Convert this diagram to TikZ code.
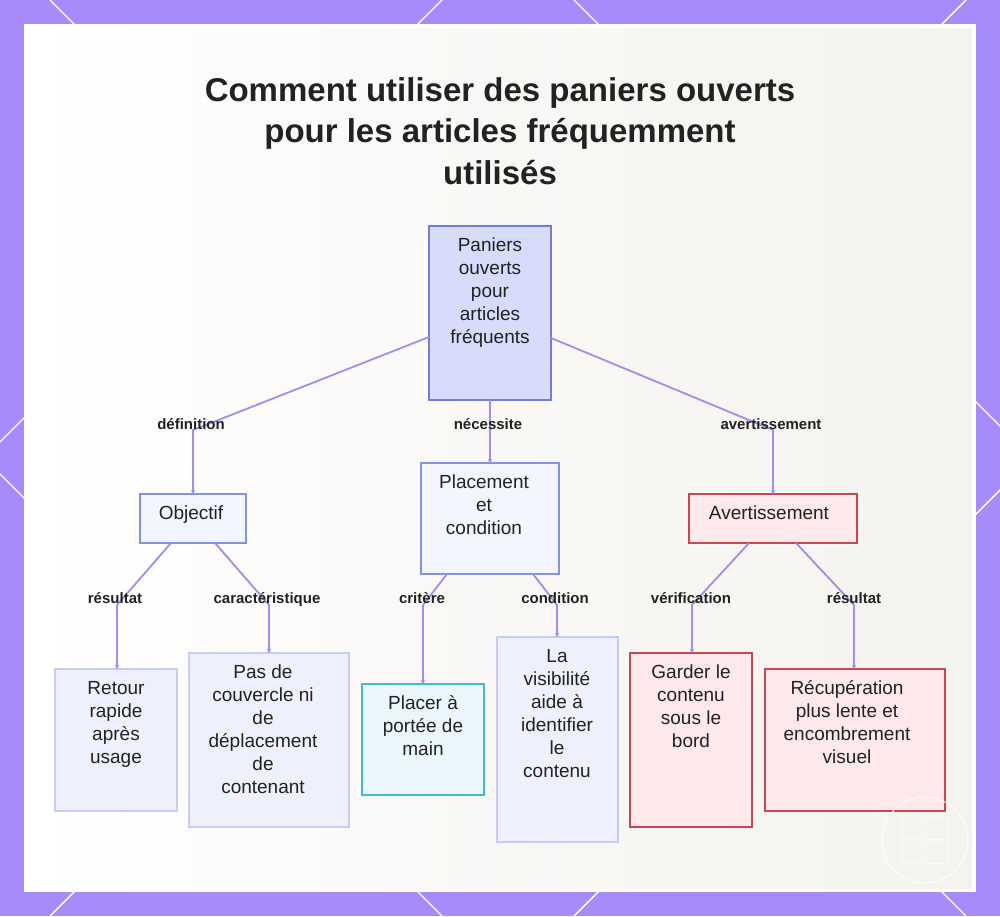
\documentclass[tikz,border=0pt]{standalone}
\usepackage{fontspec}
\setmainfont{Liberation Sans}
\usetikzlibrary{arrows.meta}
\definecolor{purp}{RGB}{167,139,250}
\definecolor{conn}{RGB}{163,140,234}
\definecolor{ink}{RGB}{34,34,34}
\definecolor{rootfill}{RGB}{216,220,252}
\definecolor{rootdraw}{RGB}{112,126,214}
\definecolor{midfill}{RGB}{244,246,255}
\definecolor{middraw}{RGB}{128,148,226}
\definecolor{leaffill}{RGB}{238,241,253}
\definecolor{leafdraw}{RGB}{198,204,245}
\definecolor{cyanfill}{RGB}{236,246,253}
\definecolor{cyandraw}{RGB}{66,186,214}
\definecolor{pinkfill}{RGB}{253,232,234}
\definecolor{pinkdraw}{RGB}{200,72,82}
\definecolor{bgtint}{RGB}{245,243,239}
\tikzset{
  box/.style={draw, line width=1.6pt, inner sep=0pt, outer sep=0pt, anchor=north west},
  rootbox/.style={box, fill=rootfill, draw=rootdraw},
  midbox/.style={box, fill=midfill, draw=middraw},
  leafbox/.style={box, fill=leaffill, draw=leafdraw},
  cyanbox/.style={box, fill=cyanfill, draw=cyandraw},
  pinkbox/.style={box, fill=pinkfill, draw=pinkdraw},
  txt/.style={anchor=north, inner sep=0pt, align=center, text=ink, font=\fontsize{19}{23}\selectfont},
  lab/.style={anchor=base, inner sep=0pt, text=ink, font=\bfseries\fontsize{15}{18}\selectfont},
  conn/.style={draw=conn, line width=1.8pt, line join=round},
  tip/.style={-{Stealth[length=4pt,width=4.5pt]}},
  diag/.style={white, line width=1.4pt}
}
\begin{document}
\begin{tikzpicture}[x=1pt,y=-1pt]
\useasboundingbox (0,0) rectangle (1000,916);
% frame
\fill[purp] (0,0) rectangle (1000,916);
\begin{scope}
\clip (0,0) rectangle (1000,916);
\foreach \c in {-474,50,574} { \draw[diag] (\c,0) -- (\c+916,916); }
\foreach \s in {442,966,1490} { \draw[diag] (\s,0) -- (\s-916,916); }
\end{scope}
\fill[white] (24,24) rectangle (976,892);
\shade[left color=white, right color=bgtint, middle color=bgtint!60!white] (28,28) rectangle (972,888);

% title
\node[anchor=north, inner sep=0pt, align=center, text=ink, font=\bfseries\fontsize{33}{41.5}\selectfont] (title) at (500,72)
  {\strut Comment utiliser des paniers ouverts\\pour les articles fréquemment\\utilisés};

% boxes
\node[rootbox, minimum width=122pt, minimum height=174pt] (root) at (429,226) {};
\node[midbox, minimum width=106pt, minimum height=49pt] (obj) at (140,494) {};
\node[midbox, minimum width=138pt, minimum height=111pt] (plac) at (421,463) {};
\node[pinkbox, minimum width=168pt, minimum height=49pt] (avert) at (689,494) {};
\node[leafbox, minimum width=122pt, minimum height=142pt] (retour) at (55,669) {};
\node[leafbox, minimum width=160pt, minimum height=174pt] (pas) at (189,653) {};
\node[cyanbox, minimum width=122pt, minimum height=111pt] (placer) at (362,684) {};
\node[leafbox, minimum width=121pt, minimum height=205pt] (visi) at (497,637) {};
\node[pinkbox, minimum width=122pt, minimum height=174pt] (garder) at (630,653) {};
\node[pinkbox, minimum width=180pt, minimum height=142pt] (recup) at (765,669) {};

% texts
\node[txt] (roott) at (490,235) {\strut Paniers\\ouverts\\pour\\articles\\fréquents};
\node[txt] (objt) at (191,503) {\strut Objectif};
\node[txt] (plact) at (484,472) {\strut Placement\\et\\condition};
\node[txt] (avertt) at (769,503) {\strut Avertissement};
\node[txt] (retourt) at (116,678) {\strut Retour\\rapide\\après\\usage};
\node[txt] (past) at (263,662) {\strut Pas de\\couvercle ni\\de\\déplacement\\de\\contenant};
\node[txt] (placert) at (423,693) {\strut Placer à\\portée de\\main};
\node[txt] (visit) at (557,646) {\strut La\\visibilité\\aide à\\identifier\\le\\contenu};
\node[txt] (gardert) at (691,662) {\strut Garder le\\contenu\\sous le\\bord};
\node[txt] (recupt) at (847,678) {\strut Récupération\\plus lente et\\encombrement\\visuel};

% bend coordinates
\coordinate (bdef) at (193,430);
\coordinate (bav) at (773,430);
\coordinate (bres1) at (117,605);
\coordinate (bcar) at (269,605);
\coordinate (bcri) at (423,605);
\coordinate (bcon) at (557,605);
\coordinate (bver) at (692,605);
\coordinate (bres2) at (854,605);

% connectors
\draw[conn, tip] ([yshift=-24pt]root.west) -- (bdef) -- (bdef |- obj.north);
\draw[conn, tip] (root.south) -- (plac.north);
\draw[conn, tip] ([yshift=-25pt]root.east) -- (bav) -- (bav |- avert.north);
\draw[conn, tip] ([xshift=-22pt]obj.south) -- (bres1) -- (bres1 |- retour.north);
\draw[conn, tip] ([xshift=22pt]obj.south) -- (bcar) -- (bcar |- pas.north);
\draw[conn, tip] ([xshift=-43pt]plac.south) -- (bcri) -- (bcri |- placer.north);
\draw[conn, tip] ([xshift=43pt]plac.south) -- (bcon) -- (bcon |- visi.north);
\draw[conn, tip] ([xshift=-24pt]avert.south) -- (bver) -- (bver |- garder.north);
\draw[conn, tip] ([xshift=23pt]avert.south) -- (bres2) -- (bres2 |- recup.north);

% labels
\node[lab] (ldef) at (191,429) {définition};
\node[lab] (lnec) at (488,429) {nécessite};
\node[lab] (lav) at (771,429) {avertissement};
\node[lab] (lres1) at (115,603) {résultat};
\node[lab] (lcar) at (267,603) {caractéristique};
\node[lab] (lcri) at (422,603) {critère};
\node[lab] (lcon) at (555,603) {condition};
\node[lab] (lver) at (691,603) {vérification};
\node[lab] (lres2) at (854,603) {résultat};

% watermark
\draw[white, line width=1pt, opacity=0.85] (925,840) circle (43pt);
\foreach \dx/\dy in {-12/-12,12/-12,-12/12,12/12}
  \draw[white, line width=0.5pt, opacity=0.5] (925+\dx-11,840+\dy-11) rectangle (925+\dx+11,840+\dy+11);
\end{tikzpicture}
\end{document}
